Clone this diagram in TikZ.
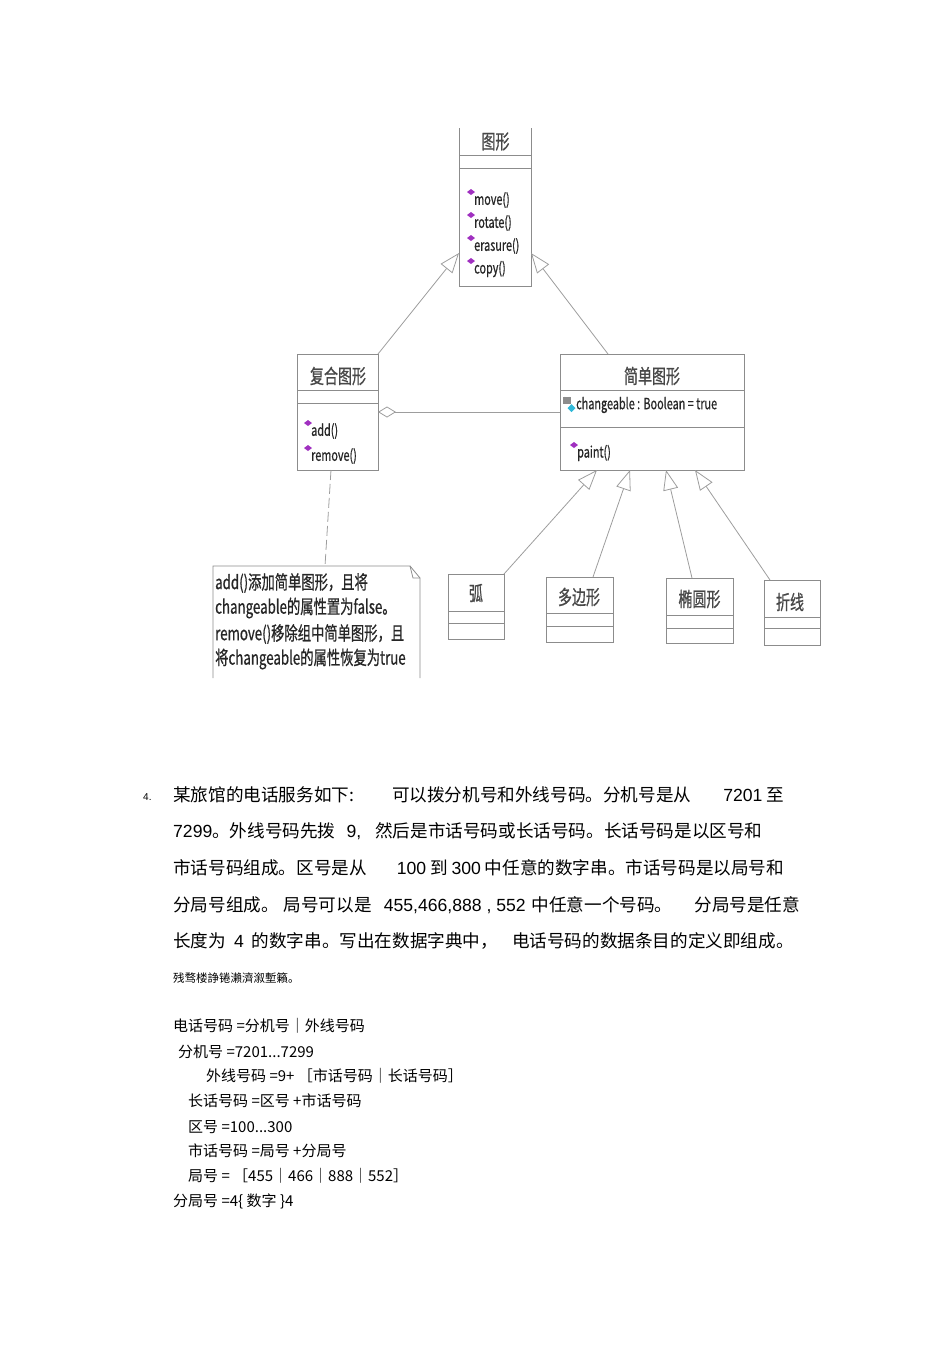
\documentclass[tikz,border=0pt]{standalone}
\usepackage{fontspec}
\setmainfont{Noto Sans CJK SC}
\newfontfamily\umlfont[FakeStretch=0.7, FakeBold=0.7]{Noto Sans CJK SC}
\newfontfamily\latin{Liberation Sans}
\usetikzlibrary{arrows.meta,calc,positioning}
\definecolor{umlline}{HTML}{8C8C8C}
\definecolor{umltext}{HTML}{262626}
\definecolor{opicon}{HTML}{A030C0}
\definecolor{attricon}{HTML}{30B8D8}
\tikzset{
  cls/.style={draw=umlline, line width=0.8pt, inner sep=0pt, outer sep=0pt},
  sep/.style={draw=umlline, line width=0.8pt},
  title/.style={font=\umlfont\fontsize{20}{24}\selectfont, text=umltext!85, inner sep=0pt},
  op/.style={font=\umlfont\fontsize{15.5}{18}\selectfont, text=umltext, anchor=west, inner sep=0pt},
  notetext/.style={font=\umlfont\fontsize{19}{22}\selectfont, text=umltext, anchor=west, inner sep=0pt},
  inherit/.style={draw=umlline!85, line width=0.8pt, -{Triangle[open, length=20pt, width=15pt]}},
  aggr/.style={draw=umlline!85, line width=0.8pt, {Diamond[open, length=18pt, width=11pt]}-},
  anchorline/.style={draw=umlline!85, line width=0.8pt, dash pattern=on 10pt off 4pt},
  body/.style={font=\fontsize{17.6}{21}\selectfont, anchor=west, inner sep=0pt, text=black},
  defn/.style={font=\fontsize{15}{18}\selectfont, anchor=west, inner sep=0pt, text=black},
}
\begin{document}
\begin{tikzpicture}[x=1pt,y=-1pt]
\useasboundingbox (0,0) rectangle (950,1345);
% class boxes
\node[inner sep=0pt, outer sep=0pt, minimum width=72, minimum height=158] (tuxing)  at (495,207)   {};
\node[cls, minimum width=81,  minimum height=116] (fuhe)    at (337.5,412) {};
\node[cls, minimum width=184, minimum height=116] (jiandan) at (652,412)   {};
\node[cls, minimum width=56,  minimum height=65]  (hu)      at (476,606.5) {};
\node[cls, minimum width=67,  minimum height=65]  (duobian) at (579.5,609.5) {};
\node[cls, minimum width=67,  minimum height=65]  (tuoyuan) at (699.5,610.5) {};
\node[cls, minimum width=56,  minimum height=65]  (zhexian) at (792,612.5) {};
\draw[sep] (tuxing.north west) -- (tuxing.south west) -- (tuxing.south east) -- (tuxing.north east);
\foreach \b/\o in {tuxing/27, tuxing/40, fuhe/36, fuhe/49, jiandan/36, jiandan/73,
                   hu/37, hu/49, duobian/36, duobian/49, tuoyuan/37, tuoyuan/50, zhexian/37, zhexian/48}
  \draw[sep] ($(\b.north west)+(0,\o)$) -- ($(\b.north east)+(0,\o)$);
% titles
\node[title] (tuxing-t)  at (495.5,141.5) {图形};
\node[title] (fuhe-t)    at (338,376)   {复合图形};
\node[title] (jiandan-t) at (652,376)   {简单图形};
\node[title] (hu-t)      at (476,593)   {弧};
\node[title] (duobian-t) at (579,597)   {多边形};
\node[title] (tuoyuan-t) at (699.5,599) {椭圆形};
\node[title] (zhexian-t) at (790,602)   {折线};
% operations
\foreach \m/\x/\y [count=\i] in {move()/474/200, rotate()/474/223, erasure()/474/246, copy()/474/269,
                                 add()/311/431, remove()/311/456, paint()/577/453} {
  \fill[opicon] (\x-7,\y-8) -- (\x-3,\y-11) -- (\x+1,\y-8) -- (\x-3,\y-5) -- cycle;
  \node[op] (op-\i) at (\x,\y) {\m};
}
% attribute
\fill[black!45] (563,397) rectangle (571,404);
\draw[black!45, line width=1pt] (564.5,397) arc[start angle=180, end angle=0, radius=2.5];
\fill[attricon] (567.5,408) -- (571.5,404) -- (575.5,408) -- (571.5,412) -- cycle;
\node[op] (attr) at (576,405) {changeable : Boolean = true};
% note
\node[inner sep=0pt, outer sep=0pt, minimum width=207, minimum height=112] (note) at (316.5,622) {};
\draw[sep] (note.south west) -- (note.north west) -- ($(note.north east)+(-10,0)$)
  -- ($(note.north east)+(0,12)$) -- (note.south east);
\draw[sep] ($(note.north east)+(-10,0)$) -- ($(note.north east)+(-7,12)$) -- ($(note.north east)+(0,12)$);
\node[notetext] (note-1) at (215,583) {add()添加简单图形，且将};
\node[notetext] (note-2) at (215,608) {changeable的属性置为false。};
\node[notetext] (note-3) at (215,634) {remove()移除组中简单图形，且};
\node[notetext] (note-4) at (215,659) {将changeable的属性恢复为true};
% relations
\draw[inherit] (fuhe.north east) -- ($(tuxing.south west)+(0,-33)$);
\draw[inherit] ($(jiandan.north)+(-44,0)$) -- ($(tuxing.south east)+(0,-33)$);
\draw[aggr] (fuhe.east) -- (jiandan.west);
\draw[anchorline] ($(fuhe.south)+(-6.5,0)$) -- ($(note.north)+(8.5,0)$);
\draw[inherit] (hu.north east) -- ($(jiandan.south)+(-55,0)$);
\draw[inherit] ($(duobian.north)+(13.5,0)$) -- ($(jiandan.south)+(-22,0)$);
\draw[inherit] ($(tuoyuan.north)+(-7.5,0)$) -- ($(jiandan.south)+(14,0)$);
\draw[inherit] ($(zhexian.north)+(-22,0)$) -- ($(jiandan.south)+(43,0)$);
% question text
\node[body, font=\latin\fontsize{10}{12}\selectfont] (num) at (143,797) {4.};
\node[body] (line-1) at (173,795) {某旅馆的电话服务如下:\hspace{38pt}可以拨分机号和外线号码。分机号是从\hspace{32pt}{\latin 7201} 至};
\node[body] (line-2) at (173,831) {{\latin 7299}。外线号码先拨\hspace{11pt}{\latin 9,}\hspace{14pt}然后是市话号码或长话号码。长话号码是以区号和};
\node[body] (line-3) at (173,868) {市话号码组成。区号是从\hspace{30pt}{\latin 100} 到 {\latin 300} 中任意的数字串。市话号码是以局号和};
\node[body] (line-4) at (173,905) {分局号组成。\hspace{5pt}局号可以是\hspace{12pt}{\latin 455,466,888 , 552}\hspace{6pt}中任意一个号码。\hspace{22pt}分局号是任意};
\node[body] (line-5) at (173,941) {长度为\hspace{8pt}{\latin 4}\hspace{8pt}的数字串。写出在数据字典中，\hspace{14pt}电话号码的数据条目的定义即组成。};
\node[body, font=\fontsize{11.5}{14}\selectfont] (junk) at (173,978) {残骛楼諍锩瀨濟溆塹籟。};
% data dictionary
\node[defn] (def-1) at (173,1026) {电话号码 =分机号｜外线号码};
\node[defn] (def-2) at (178,1052) {分机号 =7201...7299};
\node[defn] (def-3) at (206,1076) {外线号码 =9+ ［市话号码｜长话号码］};
\node[defn] (def-4) at (188,1101) {长话号码 =区号 +市话号码};
\node[defn] (def-5) at (188,1127) {区号 =100...300};
\node[defn] (def-6) at (188,1151) {市话号码 =局号 +分局号};
\node[defn] (def-7) at (188,1176) {局号 = ［455｜466｜888｜552］};
\node[defn] (def-8) at (173,1201) {分局号 =4\{ 数字 \}4};
\end{tikzpicture}
\end{document}
